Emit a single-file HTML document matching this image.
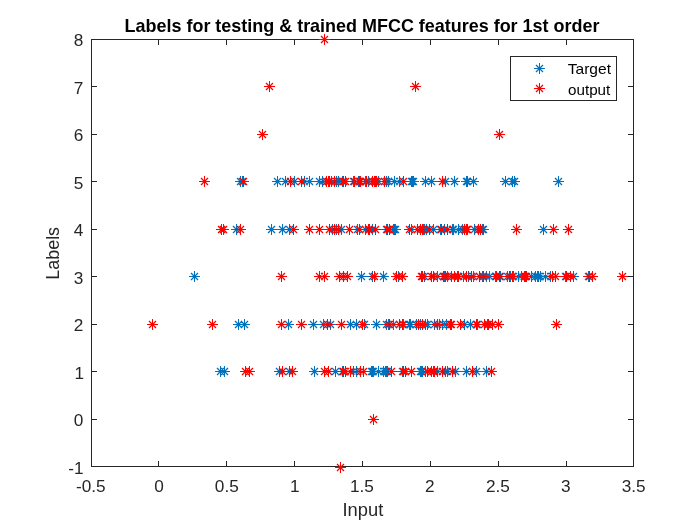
<!DOCTYPE html>
<html><head><meta charset="utf-8"><title>Labels for testing &amp; trained MFCC features for 1st order</title>
<style>
html,body{margin:0;padding:0;background:#fff;}
svg{display:block;}
text{font-family:"Liberation Sans",sans-serif;fill:#262626;}
.tk text{font-size:17.2px;}
</style></head><body>
<svg width="700" height="525" viewBox="0 0 700 525">
<rect width="700" height="525" fill="#fff"/>
<text x="362.0" y="32.3" text-anchor="middle" font-size="17.97" font-weight="bold" fill="#000" style="fill:#000">Labels for testing &amp; trained MFCC features for 1st order</text>
<rect x="91.5" y="39.5" width="542.0" height="427.0" fill="none" stroke="#262626" stroke-width="1"/>
<path d="M158.5 466.5v-5.5M158.5 39.5v5.5M226.5 466.5v-5.5M226.5 39.5v5.5M294.5 466.5v-5.5M294.5 39.5v5.5M362.5 466.5v-5.5M362.5 39.5v5.5M430.5 466.5v-5.5M430.5 39.5v5.5M498.5 466.5v-5.5M498.5 39.5v5.5M566.5 466.5v-5.5M566.5 39.5v5.5M91.5 466.5h5.5M633.5 466.5h-5.5M91.5 419.5h5.5M633.5 419.5h-5.5M91.5 371.5h5.5M633.5 371.5h-5.5M91.5 324.5h5.5M633.5 324.5h-5.5M91.5 276.5h5.5M633.5 276.5h-5.5M91.5 229.5h5.5M633.5 229.5h-5.5M91.5 181.5h5.5M633.5 181.5h-5.5M91.5 134.5h5.5M633.5 134.5h-5.5M91.5 86.5h5.5M633.5 86.5h-5.5M91.5 39.5h5.5M633.5 39.5h-5.5" stroke="#262626" stroke-width="1" fill="none"/>
<path d="M235.0 181.5h11.0M240.5 176.0v11.0M237.0 181.5h11.0M242.5 176.0v11.0M272.0 181.5h11.0M277.5 176.0v11.0M280.0 181.5h11.0M285.5 176.0v11.0M289.0 181.5h11.0M294.5 176.0v11.0M299.0 181.5h11.0M304.5 176.0v11.0M304.0 181.5h11.0M309.5 176.0v11.0M314.0 181.5h11.0M319.5 176.0v11.0M317.0 181.5h11.0M322.5 176.0v11.0M326.0 181.5h11.0M331.5 176.0v11.0M331.0 181.5h11.0M336.5 176.0v11.0M333.0 181.5h11.0M338.5 176.0v11.0M337.0 181.5h11.0M342.5 176.0v11.0M348.0 181.5h11.0M353.5 176.0v11.0M353.0 181.5h11.0M358.5 176.0v11.0M360.0 181.5h11.0M365.5 176.0v11.0M363.0 181.5h11.0M368.5 176.0v11.0M373.0 181.5h11.0M378.5 176.0v11.0M381.0 181.5h11.0M386.5 176.0v11.0M383.0 181.5h11.0M388.5 176.0v11.0M389.0 181.5h11.0M394.5 176.0v11.0M394.0 181.5h11.0M399.5 176.0v11.0M406.0 181.5h11.0M411.5 176.0v11.0M407.0 181.5h11.0M412.5 176.0v11.0M408.0 181.5h11.0M413.5 176.0v11.0M420.0 181.5h11.0M425.5 176.0v11.0M426.0 181.5h11.0M431.5 176.0v11.0M440.0 181.5h11.0M445.5 176.0v11.0M449.0 181.5h11.0M454.5 176.0v11.0M461.0 181.5h11.0M466.5 176.0v11.0M462.0 181.5h11.0M467.5 176.0v11.0M468.0 181.5h11.0M473.5 176.0v11.0M500.0 181.5h11.0M505.5 176.0v11.0M507.0 181.5h11.0M512.5 176.0v11.0M509.0 181.5h11.0M514.5 176.0v11.0M553.0 181.5h11.0M558.5 176.0v11.0M231.0 229.5h11.0M236.5 224.0v11.0M266.0 229.5h11.0M271.5 224.0v11.0M277.0 229.5h11.0M282.5 224.0v11.0M284.0 229.5h11.0M289.5 224.0v11.0M327.0 229.5h11.0M332.5 224.0v11.0M331.0 229.5h11.0M336.5 224.0v11.0M336.0 229.5h11.0M341.5 224.0v11.0M352.0 229.5h11.0M357.5 224.0v11.0M360.0 229.5h11.0M365.5 224.0v11.0M367.0 229.5h11.0M372.5 224.0v11.0M381.0 229.5h11.0M386.5 224.0v11.0M388.0 229.5h11.0M393.5 224.0v11.0M389.0 229.5h11.0M394.5 224.0v11.0M390.0 229.5h11.0M395.5 224.0v11.0M406.0 229.5h11.0M411.5 224.0v11.0M415.0 229.5h11.0M420.5 224.0v11.0M418.0 229.5h11.0M423.5 224.0v11.0M419.0 229.5h11.0M424.5 224.0v11.0M421.0 229.5h11.0M426.5 224.0v11.0M428.0 229.5h11.0M433.5 224.0v11.0M435.0 229.5h11.0M440.5 224.0v11.0M439.0 229.5h11.0M444.5 224.0v11.0M447.0 229.5h11.0M452.5 224.0v11.0M448.0 229.5h11.0M453.5 224.0v11.0M453.0 229.5h11.0M458.5 224.0v11.0M457.0 229.5h11.0M462.5 224.0v11.0M469.0 229.5h11.0M474.5 224.0v11.0M477.0 229.5h11.0M482.5 224.0v11.0M478.0 229.5h11.0M483.5 224.0v11.0M538.0 229.5h11.0M543.5 224.0v11.0M189.0 276.5h11.0M194.5 271.0v11.0M356.0 276.5h11.0M361.5 271.0v11.0M367.0 276.5h11.0M372.5 271.0v11.0M378.0 276.5h11.0M383.5 271.0v11.0M393.0 276.5h11.0M398.5 271.0v11.0M419.0 276.5h11.0M424.5 271.0v11.0M432.0 276.5h11.0M437.5 271.0v11.0M439.0 276.5h11.0M444.5 271.0v11.0M442.0 276.5h11.0M447.5 271.0v11.0M452.0 276.5h11.0M457.5 271.0v11.0M458.0 276.5h11.0M463.5 271.0v11.0M463.0 276.5h11.0M468.5 271.0v11.0M468.0 276.5h11.0M473.5 271.0v11.0M477.0 276.5h11.0M482.5 271.0v11.0M481.0 276.5h11.0M486.5 271.0v11.0M484.0 276.5h11.0M489.5 271.0v11.0M490.0 276.5h11.0M495.5 271.0v11.0M495.0 276.5h11.0M500.5 271.0v11.0M502.0 276.5h11.0M507.5 271.0v11.0M505.0 276.5h11.0M510.5 271.0v11.0M508.0 276.5h11.0M513.5 271.0v11.0M513.0 276.5h11.0M518.5 271.0v11.0M516.0 276.5h11.0M521.5 271.0v11.0M526.0 276.5h11.0M531.5 271.0v11.0M530.0 276.5h11.0M535.5 271.0v11.0M532.0 276.5h11.0M537.5 271.0v11.0M533.0 276.5h11.0M538.5 271.0v11.0M535.0 276.5h11.0M540.5 271.0v11.0M540.0 276.5h11.0M545.5 271.0v11.0M545.0 276.5h11.0M550.5 271.0v11.0M560.0 276.5h11.0M565.5 271.0v11.0M568.0 276.5h11.0M573.5 271.0v11.0M583.0 276.5h11.0M588.5 271.0v11.0M233.0 324.5h11.0M238.5 319.0v11.0M239.0 324.5h11.0M244.5 319.0v11.0M283.0 324.5h11.0M288.5 319.0v11.0M308.0 324.5h11.0M313.5 319.0v11.0M318.0 324.5h11.0M323.5 319.0v11.0M325.0 324.5h11.0M330.5 319.0v11.0M345.0 324.5h11.0M350.5 319.0v11.0M351.0 324.5h11.0M356.5 319.0v11.0M359.0 324.5h11.0M364.5 319.0v11.0M371.0 324.5h11.0M376.5 319.0v11.0M381.0 324.5h11.0M386.5 319.0v11.0M383.0 324.5h11.0M388.5 319.0v11.0M388.0 324.5h11.0M393.5 319.0v11.0M398.0 324.5h11.0M403.5 319.0v11.0M404.0 324.5h11.0M409.5 319.0v11.0M405.0 324.5h11.0M410.5 319.0v11.0M411.0 324.5h11.0M416.5 319.0v11.0M415.0 324.5h11.0M420.5 319.0v11.0M420.0 324.5h11.0M425.5 319.0v11.0M422.0 324.5h11.0M427.5 319.0v11.0M429.0 324.5h11.0M434.5 319.0v11.0M434.0 324.5h11.0M439.5 319.0v11.0M437.0 324.5h11.0M442.5 319.0v11.0M441.0 324.5h11.0M446.5 319.0v11.0M459.0 324.5h11.0M464.5 319.0v11.0M465.0 324.5h11.0M470.5 319.0v11.0M472.0 324.5h11.0M477.5 319.0v11.0M482.0 324.5h11.0M487.5 319.0v11.0M215.0 371.5h11.0M220.5 366.0v11.0M219.0 371.5h11.0M224.5 366.0v11.0M274.0 371.5h11.0M279.5 366.0v11.0M284.0 371.5h11.0M289.5 366.0v11.0M309.0 371.5h11.0M314.5 366.0v11.0M330.0 371.5h11.0M335.5 366.0v11.0M337.0 371.5h11.0M342.5 366.0v11.0M348.0 371.5h11.0M353.5 366.0v11.0M351.0 371.5h11.0M356.5 366.0v11.0M366.0 371.5h11.0M371.5 366.0v11.0M367.0 371.5h11.0M372.5 366.0v11.0M368.0 371.5h11.0M373.5 366.0v11.0M373.0 371.5h11.0M378.5 366.0v11.0M378.0 371.5h11.0M383.5 366.0v11.0M380.0 371.5h11.0M385.5 366.0v11.0M381.0 371.5h11.0M386.5 366.0v11.0M382.0 371.5h11.0M387.5 366.0v11.0M397.0 371.5h11.0M402.5 366.0v11.0M415.0 371.5h11.0M420.5 366.0v11.0M416.0 371.5h11.0M421.5 366.0v11.0M417.0 371.5h11.0M422.5 366.0v11.0M420.0 371.5h11.0M425.5 366.0v11.0M432.0 371.5h11.0M437.5 366.0v11.0M440.0 371.5h11.0M445.5 366.0v11.0M442.0 371.5h11.0M447.5 366.0v11.0M450.0 371.5h11.0M455.5 366.0v11.0M461.0 371.5h11.0M466.5 366.0v11.0M471.0 371.5h11.0M476.5 366.0v11.0M481.0 371.5h11.0M486.5 366.0v11.0" stroke="#0072BD" stroke-width="1" fill="none"/>
<path d="M237.0 178.0l7.0 7.0M237.0 185.0l7.0 -7.0M239.0 178.0l7.0 7.0M239.0 185.0l7.0 -7.0M274.0 178.0l7.0 7.0M274.0 185.0l7.0 -7.0M282.0 178.0l7.0 7.0M282.0 185.0l7.0 -7.0M291.0 178.0l7.0 7.0M291.0 185.0l7.0 -7.0M301.0 178.0l7.0 7.0M301.0 185.0l7.0 -7.0M306.0 178.0l7.0 7.0M306.0 185.0l7.0 -7.0M316.0 178.0l7.0 7.0M316.0 185.0l7.0 -7.0M319.0 178.0l7.0 7.0M319.0 185.0l7.0 -7.0M328.0 178.0l7.0 7.0M328.0 185.0l7.0 -7.0M333.0 178.0l7.0 7.0M333.0 185.0l7.0 -7.0M335.0 178.0l7.0 7.0M335.0 185.0l7.0 -7.0M339.0 178.0l7.0 7.0M339.0 185.0l7.0 -7.0M350.0 178.0l7.0 7.0M350.0 185.0l7.0 -7.0M355.0 178.0l7.0 7.0M355.0 185.0l7.0 -7.0M362.0 178.0l7.0 7.0M362.0 185.0l7.0 -7.0M365.0 178.0l7.0 7.0M365.0 185.0l7.0 -7.0M375.0 178.0l7.0 7.0M375.0 185.0l7.0 -7.0M383.0 178.0l7.0 7.0M383.0 185.0l7.0 -7.0M385.0 178.0l7.0 7.0M385.0 185.0l7.0 -7.0M391.0 178.0l7.0 7.0M391.0 185.0l7.0 -7.0M396.0 178.0l7.0 7.0M396.0 185.0l7.0 -7.0M408.0 178.0l7.0 7.0M408.0 185.0l7.0 -7.0M409.0 178.0l7.0 7.0M409.0 185.0l7.0 -7.0M410.0 178.0l7.0 7.0M410.0 185.0l7.0 -7.0M422.0 178.0l7.0 7.0M422.0 185.0l7.0 -7.0M428.0 178.0l7.0 7.0M428.0 185.0l7.0 -7.0M442.0 178.0l7.0 7.0M442.0 185.0l7.0 -7.0M451.0 178.0l7.0 7.0M451.0 185.0l7.0 -7.0M463.0 178.0l7.0 7.0M463.0 185.0l7.0 -7.0M464.0 178.0l7.0 7.0M464.0 185.0l7.0 -7.0M470.0 178.0l7.0 7.0M470.0 185.0l7.0 -7.0M502.0 178.0l7.0 7.0M502.0 185.0l7.0 -7.0M509.0 178.0l7.0 7.0M509.0 185.0l7.0 -7.0M511.0 178.0l7.0 7.0M511.0 185.0l7.0 -7.0M555.0 178.0l7.0 7.0M555.0 185.0l7.0 -7.0M233.0 226.0l7.0 7.0M233.0 233.0l7.0 -7.0M268.0 226.0l7.0 7.0M268.0 233.0l7.0 -7.0M279.0 226.0l7.0 7.0M279.0 233.0l7.0 -7.0M286.0 226.0l7.0 7.0M286.0 233.0l7.0 -7.0M329.0 226.0l7.0 7.0M329.0 233.0l7.0 -7.0M333.0 226.0l7.0 7.0M333.0 233.0l7.0 -7.0M338.0 226.0l7.0 7.0M338.0 233.0l7.0 -7.0M354.0 226.0l7.0 7.0M354.0 233.0l7.0 -7.0M362.0 226.0l7.0 7.0M362.0 233.0l7.0 -7.0M369.0 226.0l7.0 7.0M369.0 233.0l7.0 -7.0M383.0 226.0l7.0 7.0M383.0 233.0l7.0 -7.0M390.0 226.0l7.0 7.0M390.0 233.0l7.0 -7.0M391.0 226.0l7.0 7.0M391.0 233.0l7.0 -7.0M392.0 226.0l7.0 7.0M392.0 233.0l7.0 -7.0M408.0 226.0l7.0 7.0M408.0 233.0l7.0 -7.0M417.0 226.0l7.0 7.0M417.0 233.0l7.0 -7.0M420.0 226.0l7.0 7.0M420.0 233.0l7.0 -7.0M421.0 226.0l7.0 7.0M421.0 233.0l7.0 -7.0M423.0 226.0l7.0 7.0M423.0 233.0l7.0 -7.0M430.0 226.0l7.0 7.0M430.0 233.0l7.0 -7.0M437.0 226.0l7.0 7.0M437.0 233.0l7.0 -7.0M441.0 226.0l7.0 7.0M441.0 233.0l7.0 -7.0M449.0 226.0l7.0 7.0M449.0 233.0l7.0 -7.0M450.0 226.0l7.0 7.0M450.0 233.0l7.0 -7.0M455.0 226.0l7.0 7.0M455.0 233.0l7.0 -7.0M459.0 226.0l7.0 7.0M459.0 233.0l7.0 -7.0M471.0 226.0l7.0 7.0M471.0 233.0l7.0 -7.0M479.0 226.0l7.0 7.0M479.0 233.0l7.0 -7.0M480.0 226.0l7.0 7.0M480.0 233.0l7.0 -7.0M540.0 226.0l7.0 7.0M540.0 233.0l7.0 -7.0M191.0 273.0l7.0 7.0M191.0 280.0l7.0 -7.0M358.0 273.0l7.0 7.0M358.0 280.0l7.0 -7.0M369.0 273.0l7.0 7.0M369.0 280.0l7.0 -7.0M380.0 273.0l7.0 7.0M380.0 280.0l7.0 -7.0M395.0 273.0l7.0 7.0M395.0 280.0l7.0 -7.0M421.0 273.0l7.0 7.0M421.0 280.0l7.0 -7.0M434.0 273.0l7.0 7.0M434.0 280.0l7.0 -7.0M441.0 273.0l7.0 7.0M441.0 280.0l7.0 -7.0M444.0 273.0l7.0 7.0M444.0 280.0l7.0 -7.0M454.0 273.0l7.0 7.0M454.0 280.0l7.0 -7.0M460.0 273.0l7.0 7.0M460.0 280.0l7.0 -7.0M465.0 273.0l7.0 7.0M465.0 280.0l7.0 -7.0M470.0 273.0l7.0 7.0M470.0 280.0l7.0 -7.0M479.0 273.0l7.0 7.0M479.0 280.0l7.0 -7.0M483.0 273.0l7.0 7.0M483.0 280.0l7.0 -7.0M486.0 273.0l7.0 7.0M486.0 280.0l7.0 -7.0M492.0 273.0l7.0 7.0M492.0 280.0l7.0 -7.0M497.0 273.0l7.0 7.0M497.0 280.0l7.0 -7.0M504.0 273.0l7.0 7.0M504.0 280.0l7.0 -7.0M507.0 273.0l7.0 7.0M507.0 280.0l7.0 -7.0M510.0 273.0l7.0 7.0M510.0 280.0l7.0 -7.0M515.0 273.0l7.0 7.0M515.0 280.0l7.0 -7.0M518.0 273.0l7.0 7.0M518.0 280.0l7.0 -7.0M528.0 273.0l7.0 7.0M528.0 280.0l7.0 -7.0M532.0 273.0l7.0 7.0M532.0 280.0l7.0 -7.0M534.0 273.0l7.0 7.0M534.0 280.0l7.0 -7.0M535.0 273.0l7.0 7.0M535.0 280.0l7.0 -7.0M537.0 273.0l7.0 7.0M537.0 280.0l7.0 -7.0M542.0 273.0l7.0 7.0M542.0 280.0l7.0 -7.0M547.0 273.0l7.0 7.0M547.0 280.0l7.0 -7.0M562.0 273.0l7.0 7.0M562.0 280.0l7.0 -7.0M570.0 273.0l7.0 7.0M570.0 280.0l7.0 -7.0M585.0 273.0l7.0 7.0M585.0 280.0l7.0 -7.0M235.0 321.0l7.0 7.0M235.0 328.0l7.0 -7.0M241.0 321.0l7.0 7.0M241.0 328.0l7.0 -7.0M285.0 321.0l7.0 7.0M285.0 328.0l7.0 -7.0M310.0 321.0l7.0 7.0M310.0 328.0l7.0 -7.0M320.0 321.0l7.0 7.0M320.0 328.0l7.0 -7.0M327.0 321.0l7.0 7.0M327.0 328.0l7.0 -7.0M347.0 321.0l7.0 7.0M347.0 328.0l7.0 -7.0M353.0 321.0l7.0 7.0M353.0 328.0l7.0 -7.0M361.0 321.0l7.0 7.0M361.0 328.0l7.0 -7.0M373.0 321.0l7.0 7.0M373.0 328.0l7.0 -7.0M383.0 321.0l7.0 7.0M383.0 328.0l7.0 -7.0M385.0 321.0l7.0 7.0M385.0 328.0l7.0 -7.0M390.0 321.0l7.0 7.0M390.0 328.0l7.0 -7.0M400.0 321.0l7.0 7.0M400.0 328.0l7.0 -7.0M406.0 321.0l7.0 7.0M406.0 328.0l7.0 -7.0M407.0 321.0l7.0 7.0M407.0 328.0l7.0 -7.0M413.0 321.0l7.0 7.0M413.0 328.0l7.0 -7.0M417.0 321.0l7.0 7.0M417.0 328.0l7.0 -7.0M422.0 321.0l7.0 7.0M422.0 328.0l7.0 -7.0M424.0 321.0l7.0 7.0M424.0 328.0l7.0 -7.0M431.0 321.0l7.0 7.0M431.0 328.0l7.0 -7.0M436.0 321.0l7.0 7.0M436.0 328.0l7.0 -7.0M439.0 321.0l7.0 7.0M439.0 328.0l7.0 -7.0M443.0 321.0l7.0 7.0M443.0 328.0l7.0 -7.0M461.0 321.0l7.0 7.0M461.0 328.0l7.0 -7.0M467.0 321.0l7.0 7.0M467.0 328.0l7.0 -7.0M474.0 321.0l7.0 7.0M474.0 328.0l7.0 -7.0M484.0 321.0l7.0 7.0M484.0 328.0l7.0 -7.0M217.0 368.0l7.0 7.0M217.0 375.0l7.0 -7.0M221.0 368.0l7.0 7.0M221.0 375.0l7.0 -7.0M276.0 368.0l7.0 7.0M276.0 375.0l7.0 -7.0M286.0 368.0l7.0 7.0M286.0 375.0l7.0 -7.0M311.0 368.0l7.0 7.0M311.0 375.0l7.0 -7.0M332.0 368.0l7.0 7.0M332.0 375.0l7.0 -7.0M339.0 368.0l7.0 7.0M339.0 375.0l7.0 -7.0M350.0 368.0l7.0 7.0M350.0 375.0l7.0 -7.0M353.0 368.0l7.0 7.0M353.0 375.0l7.0 -7.0M368.0 368.0l7.0 7.0M368.0 375.0l7.0 -7.0M369.0 368.0l7.0 7.0M369.0 375.0l7.0 -7.0M370.0 368.0l7.0 7.0M370.0 375.0l7.0 -7.0M375.0 368.0l7.0 7.0M375.0 375.0l7.0 -7.0M380.0 368.0l7.0 7.0M380.0 375.0l7.0 -7.0M382.0 368.0l7.0 7.0M382.0 375.0l7.0 -7.0M383.0 368.0l7.0 7.0M383.0 375.0l7.0 -7.0M384.0 368.0l7.0 7.0M384.0 375.0l7.0 -7.0M399.0 368.0l7.0 7.0M399.0 375.0l7.0 -7.0M417.0 368.0l7.0 7.0M417.0 375.0l7.0 -7.0M418.0 368.0l7.0 7.0M418.0 375.0l7.0 -7.0M419.0 368.0l7.0 7.0M419.0 375.0l7.0 -7.0M422.0 368.0l7.0 7.0M422.0 375.0l7.0 -7.0M434.0 368.0l7.0 7.0M434.0 375.0l7.0 -7.0M442.0 368.0l7.0 7.0M442.0 375.0l7.0 -7.0M444.0 368.0l7.0 7.0M444.0 375.0l7.0 -7.0M452.0 368.0l7.0 7.0M452.0 375.0l7.0 -7.0M463.0 368.0l7.0 7.0M463.0 375.0l7.0 -7.0M473.0 368.0l7.0 7.0M473.0 375.0l7.0 -7.0M483.0 368.0l7.0 7.0M483.0 375.0l7.0 -7.0" stroke="#0072BD" stroke-width="1.25" fill="none"/>
<path d="M199.0 181.5h11.0M204.5 176.0v11.0M238.0 181.5h11.0M243.5 176.0v11.0M285.0 181.5h11.0M290.5 176.0v11.0M296.0 181.5h11.0M301.5 176.0v11.0M321.0 181.5h11.0M326.5 176.0v11.0M323.0 181.5h11.0M328.5 176.0v11.0M324.0 181.5h11.0M329.5 176.0v11.0M329.0 181.5h11.0M334.5 176.0v11.0M338.0 181.5h11.0M343.5 176.0v11.0M340.0 181.5h11.0M345.5 176.0v11.0M349.0 181.5h11.0M354.5 176.0v11.0M354.0 181.5h11.0M359.5 176.0v11.0M355.0 181.5h11.0M360.5 176.0v11.0M361.0 181.5h11.0M366.5 176.0v11.0M367.0 181.5h11.0M372.5 176.0v11.0M369.0 181.5h11.0M374.5 176.0v11.0M370.0 181.5h11.0M375.5 176.0v11.0M371.0 181.5h11.0M376.5 176.0v11.0M379.0 181.5h11.0M384.5 176.0v11.0M398.0 181.5h11.0M403.5 176.0v11.0M437.0 181.5h11.0M442.5 176.0v11.0M216.0 229.5h11.0M221.5 224.0v11.0M218.0 229.5h11.0M223.5 224.0v11.0M235.0 229.5h11.0M240.5 224.0v11.0M288.0 229.5h11.0M293.5 224.0v11.0M304.0 229.5h11.0M309.5 224.0v11.0M314.0 229.5h11.0M319.5 224.0v11.0M324.0 229.5h11.0M329.5 224.0v11.0M329.0 229.5h11.0M334.5 224.0v11.0M333.0 229.5h11.0M338.5 224.0v11.0M344.0 229.5h11.0M349.5 224.0v11.0M354.0 229.5h11.0M359.5 224.0v11.0M363.0 229.5h11.0M368.5 224.0v11.0M364.0 229.5h11.0M369.5 224.0v11.0M370.0 229.5h11.0M375.5 224.0v11.0M382.0 229.5h11.0M387.5 224.0v11.0M384.0 229.5h11.0M389.5 224.0v11.0M404.0 229.5h11.0M409.5 224.0v11.0M412.0 229.5h11.0M417.5 224.0v11.0M415.0 229.5h11.0M420.5 224.0v11.0M417.0 229.5h11.0M422.5 224.0v11.0M424.0 229.5h11.0M429.5 224.0v11.0M436.0 229.5h11.0M441.5 224.0v11.0M442.0 229.5h11.0M447.5 224.0v11.0M459.0 229.5h11.0M464.5 224.0v11.0M461.0 229.5h11.0M466.5 224.0v11.0M462.0 229.5h11.0M467.5 224.0v11.0M473.0 229.5h11.0M478.5 224.0v11.0M475.0 229.5h11.0M480.5 224.0v11.0M511.0 229.5h11.0M516.5 224.0v11.0M548.0 229.5h11.0M553.5 224.0v11.0M563.0 229.5h11.0M568.5 224.0v11.0M276.0 276.5h11.0M281.5 271.0v11.0M314.0 276.5h11.0M319.5 271.0v11.0M319.0 276.5h11.0M324.5 271.0v11.0M334.0 276.5h11.0M339.5 271.0v11.0M338.0 276.5h11.0M343.5 271.0v11.0M342.0 276.5h11.0M347.5 271.0v11.0M369.0 276.5h11.0M374.5 271.0v11.0M391.0 276.5h11.0M396.5 271.0v11.0M397.0 276.5h11.0M402.5 271.0v11.0M416.0 276.5h11.0M421.5 271.0v11.0M417.0 276.5h11.0M422.5 271.0v11.0M426.0 276.5h11.0M431.5 271.0v11.0M428.0 276.5h11.0M433.5 271.0v11.0M438.0 276.5h11.0M443.5 271.0v11.0M440.0 276.5h11.0M445.5 271.0v11.0M446.0 276.5h11.0M451.5 271.0v11.0M449.0 276.5h11.0M454.5 271.0v11.0M453.0 276.5h11.0M458.5 271.0v11.0M461.0 276.5h11.0M466.5 271.0v11.0M466.0 276.5h11.0M471.5 271.0v11.0M474.0 276.5h11.0M479.5 271.0v11.0M478.0 276.5h11.0M483.5 271.0v11.0M491.0 276.5h11.0M496.5 271.0v11.0M494.0 276.5h11.0M499.5 271.0v11.0M504.0 276.5h11.0M509.5 271.0v11.0M507.0 276.5h11.0M512.5 271.0v11.0M519.0 276.5h11.0M524.5 271.0v11.0M520.0 276.5h11.0M525.5 271.0v11.0M521.0 276.5h11.0M526.5 271.0v11.0M547.0 276.5h11.0M552.5 271.0v11.0M550.0 276.5h11.0M555.5 271.0v11.0M561.0 276.5h11.0M566.5 271.0v11.0M565.0 276.5h11.0M570.5 271.0v11.0M584.0 276.5h11.0M589.5 271.0v11.0M587.0 276.5h11.0M592.5 271.0v11.0M617.0 276.5h11.0M622.5 271.0v11.0M147.0 324.5h11.0M152.5 319.0v11.0M207.0 324.5h11.0M212.5 319.0v11.0M276.0 324.5h11.0M281.5 319.0v11.0M296.0 324.5h11.0M301.5 319.0v11.0M322.0 324.5h11.0M327.5 319.0v11.0M336.0 324.5h11.0M341.5 319.0v11.0M357.0 324.5h11.0M362.5 319.0v11.0M384.0 324.5h11.0M389.5 319.0v11.0M394.0 324.5h11.0M399.5 319.0v11.0M397.0 324.5h11.0M402.5 319.0v11.0M413.0 324.5h11.0M418.5 319.0v11.0M417.0 324.5h11.0M422.5 319.0v11.0M432.0 324.5h11.0M437.5 319.0v11.0M445.0 324.5h11.0M450.5 319.0v11.0M446.0 324.5h11.0M451.5 319.0v11.0M455.0 324.5h11.0M460.5 319.0v11.0M471.0 324.5h11.0M476.5 319.0v11.0M479.0 324.5h11.0M484.5 319.0v11.0M483.0 324.5h11.0M488.5 319.0v11.0M487.0 324.5h11.0M492.5 319.0v11.0M493.0 324.5h11.0M498.5 319.0v11.0M551.0 324.5h11.0M556.5 319.0v11.0M240.0 371.5h11.0M245.5 366.0v11.0M244.0 371.5h11.0M249.5 366.0v11.0M277.0 371.5h11.0M282.5 366.0v11.0M287.0 371.5h11.0M292.5 366.0v11.0M319.0 371.5h11.0M324.5 366.0v11.0M323.0 371.5h11.0M328.5 366.0v11.0M338.0 371.5h11.0M343.5 366.0v11.0M340.0 371.5h11.0M345.5 366.0v11.0M345.0 371.5h11.0M350.5 366.0v11.0M355.0 371.5h11.0M360.5 366.0v11.0M358.0 371.5h11.0M363.5 366.0v11.0M386.0 371.5h11.0M391.5 366.0v11.0M398.0 371.5h11.0M403.5 366.0v11.0M400.0 371.5h11.0M405.5 366.0v11.0M406.0 371.5h11.0M411.5 366.0v11.0M422.0 371.5h11.0M427.5 366.0v11.0M426.0 371.5h11.0M431.5 366.0v11.0M428.0 371.5h11.0M433.5 366.0v11.0M429.0 371.5h11.0M434.5 366.0v11.0M437.0 371.5h11.0M442.5 366.0v11.0M447.0 371.5h11.0M452.5 366.0v11.0M467.0 371.5h11.0M472.5 366.0v11.0M486.0 371.5h11.0M491.5 366.0v11.0M319.0 39.5h11.0M324.5 34.0v11.0M264.0 86.5h11.0M269.5 81.0v11.0M410.0 86.5h11.0M415.5 81.0v11.0M257.0 134.5h11.0M262.5 129.0v11.0M494.0 134.5h11.0M499.5 129.0v11.0M368.0 419.5h11.0M373.5 414.0v11.0M335.0 467.5h11.0M340.5 462.0v11.0" stroke="#FF0000" stroke-width="1" fill="none"/>
<path d="M201.0 178.0l7.0 7.0M201.0 185.0l7.0 -7.0M240.0 178.0l7.0 7.0M240.0 185.0l7.0 -7.0M287.0 178.0l7.0 7.0M287.0 185.0l7.0 -7.0M298.0 178.0l7.0 7.0M298.0 185.0l7.0 -7.0M323.0 178.0l7.0 7.0M323.0 185.0l7.0 -7.0M325.0 178.0l7.0 7.0M325.0 185.0l7.0 -7.0M326.0 178.0l7.0 7.0M326.0 185.0l7.0 -7.0M331.0 178.0l7.0 7.0M331.0 185.0l7.0 -7.0M340.0 178.0l7.0 7.0M340.0 185.0l7.0 -7.0M342.0 178.0l7.0 7.0M342.0 185.0l7.0 -7.0M351.0 178.0l7.0 7.0M351.0 185.0l7.0 -7.0M356.0 178.0l7.0 7.0M356.0 185.0l7.0 -7.0M357.0 178.0l7.0 7.0M357.0 185.0l7.0 -7.0M363.0 178.0l7.0 7.0M363.0 185.0l7.0 -7.0M369.0 178.0l7.0 7.0M369.0 185.0l7.0 -7.0M371.0 178.0l7.0 7.0M371.0 185.0l7.0 -7.0M372.0 178.0l7.0 7.0M372.0 185.0l7.0 -7.0M373.0 178.0l7.0 7.0M373.0 185.0l7.0 -7.0M381.0 178.0l7.0 7.0M381.0 185.0l7.0 -7.0M400.0 178.0l7.0 7.0M400.0 185.0l7.0 -7.0M439.0 178.0l7.0 7.0M439.0 185.0l7.0 -7.0M218.0 226.0l7.0 7.0M218.0 233.0l7.0 -7.0M220.0 226.0l7.0 7.0M220.0 233.0l7.0 -7.0M237.0 226.0l7.0 7.0M237.0 233.0l7.0 -7.0M290.0 226.0l7.0 7.0M290.0 233.0l7.0 -7.0M306.0 226.0l7.0 7.0M306.0 233.0l7.0 -7.0M316.0 226.0l7.0 7.0M316.0 233.0l7.0 -7.0M326.0 226.0l7.0 7.0M326.0 233.0l7.0 -7.0M331.0 226.0l7.0 7.0M331.0 233.0l7.0 -7.0M335.0 226.0l7.0 7.0M335.0 233.0l7.0 -7.0M346.0 226.0l7.0 7.0M346.0 233.0l7.0 -7.0M356.0 226.0l7.0 7.0M356.0 233.0l7.0 -7.0M365.0 226.0l7.0 7.0M365.0 233.0l7.0 -7.0M366.0 226.0l7.0 7.0M366.0 233.0l7.0 -7.0M372.0 226.0l7.0 7.0M372.0 233.0l7.0 -7.0M384.0 226.0l7.0 7.0M384.0 233.0l7.0 -7.0M386.0 226.0l7.0 7.0M386.0 233.0l7.0 -7.0M406.0 226.0l7.0 7.0M406.0 233.0l7.0 -7.0M414.0 226.0l7.0 7.0M414.0 233.0l7.0 -7.0M417.0 226.0l7.0 7.0M417.0 233.0l7.0 -7.0M419.0 226.0l7.0 7.0M419.0 233.0l7.0 -7.0M426.0 226.0l7.0 7.0M426.0 233.0l7.0 -7.0M438.0 226.0l7.0 7.0M438.0 233.0l7.0 -7.0M444.0 226.0l7.0 7.0M444.0 233.0l7.0 -7.0M461.0 226.0l7.0 7.0M461.0 233.0l7.0 -7.0M463.0 226.0l7.0 7.0M463.0 233.0l7.0 -7.0M464.0 226.0l7.0 7.0M464.0 233.0l7.0 -7.0M475.0 226.0l7.0 7.0M475.0 233.0l7.0 -7.0M477.0 226.0l7.0 7.0M477.0 233.0l7.0 -7.0M513.0 226.0l7.0 7.0M513.0 233.0l7.0 -7.0M550.0 226.0l7.0 7.0M550.0 233.0l7.0 -7.0M565.0 226.0l7.0 7.0M565.0 233.0l7.0 -7.0M278.0 273.0l7.0 7.0M278.0 280.0l7.0 -7.0M316.0 273.0l7.0 7.0M316.0 280.0l7.0 -7.0M321.0 273.0l7.0 7.0M321.0 280.0l7.0 -7.0M336.0 273.0l7.0 7.0M336.0 280.0l7.0 -7.0M340.0 273.0l7.0 7.0M340.0 280.0l7.0 -7.0M344.0 273.0l7.0 7.0M344.0 280.0l7.0 -7.0M371.0 273.0l7.0 7.0M371.0 280.0l7.0 -7.0M393.0 273.0l7.0 7.0M393.0 280.0l7.0 -7.0M399.0 273.0l7.0 7.0M399.0 280.0l7.0 -7.0M418.0 273.0l7.0 7.0M418.0 280.0l7.0 -7.0M419.0 273.0l7.0 7.0M419.0 280.0l7.0 -7.0M428.0 273.0l7.0 7.0M428.0 280.0l7.0 -7.0M430.0 273.0l7.0 7.0M430.0 280.0l7.0 -7.0M440.0 273.0l7.0 7.0M440.0 280.0l7.0 -7.0M442.0 273.0l7.0 7.0M442.0 280.0l7.0 -7.0M448.0 273.0l7.0 7.0M448.0 280.0l7.0 -7.0M451.0 273.0l7.0 7.0M451.0 280.0l7.0 -7.0M455.0 273.0l7.0 7.0M455.0 280.0l7.0 -7.0M463.0 273.0l7.0 7.0M463.0 280.0l7.0 -7.0M468.0 273.0l7.0 7.0M468.0 280.0l7.0 -7.0M476.0 273.0l7.0 7.0M476.0 280.0l7.0 -7.0M480.0 273.0l7.0 7.0M480.0 280.0l7.0 -7.0M493.0 273.0l7.0 7.0M493.0 280.0l7.0 -7.0M496.0 273.0l7.0 7.0M496.0 280.0l7.0 -7.0M506.0 273.0l7.0 7.0M506.0 280.0l7.0 -7.0M509.0 273.0l7.0 7.0M509.0 280.0l7.0 -7.0M521.0 273.0l7.0 7.0M521.0 280.0l7.0 -7.0M522.0 273.0l7.0 7.0M522.0 280.0l7.0 -7.0M523.0 273.0l7.0 7.0M523.0 280.0l7.0 -7.0M549.0 273.0l7.0 7.0M549.0 280.0l7.0 -7.0M552.0 273.0l7.0 7.0M552.0 280.0l7.0 -7.0M563.0 273.0l7.0 7.0M563.0 280.0l7.0 -7.0M567.0 273.0l7.0 7.0M567.0 280.0l7.0 -7.0M586.0 273.0l7.0 7.0M586.0 280.0l7.0 -7.0M589.0 273.0l7.0 7.0M589.0 280.0l7.0 -7.0M619.0 273.0l7.0 7.0M619.0 280.0l7.0 -7.0M149.0 321.0l7.0 7.0M149.0 328.0l7.0 -7.0M209.0 321.0l7.0 7.0M209.0 328.0l7.0 -7.0M278.0 321.0l7.0 7.0M278.0 328.0l7.0 -7.0M298.0 321.0l7.0 7.0M298.0 328.0l7.0 -7.0M324.0 321.0l7.0 7.0M324.0 328.0l7.0 -7.0M338.0 321.0l7.0 7.0M338.0 328.0l7.0 -7.0M359.0 321.0l7.0 7.0M359.0 328.0l7.0 -7.0M386.0 321.0l7.0 7.0M386.0 328.0l7.0 -7.0M396.0 321.0l7.0 7.0M396.0 328.0l7.0 -7.0M399.0 321.0l7.0 7.0M399.0 328.0l7.0 -7.0M415.0 321.0l7.0 7.0M415.0 328.0l7.0 -7.0M419.0 321.0l7.0 7.0M419.0 328.0l7.0 -7.0M434.0 321.0l7.0 7.0M434.0 328.0l7.0 -7.0M447.0 321.0l7.0 7.0M447.0 328.0l7.0 -7.0M448.0 321.0l7.0 7.0M448.0 328.0l7.0 -7.0M457.0 321.0l7.0 7.0M457.0 328.0l7.0 -7.0M473.0 321.0l7.0 7.0M473.0 328.0l7.0 -7.0M481.0 321.0l7.0 7.0M481.0 328.0l7.0 -7.0M485.0 321.0l7.0 7.0M485.0 328.0l7.0 -7.0M489.0 321.0l7.0 7.0M489.0 328.0l7.0 -7.0M495.0 321.0l7.0 7.0M495.0 328.0l7.0 -7.0M553.0 321.0l7.0 7.0M553.0 328.0l7.0 -7.0M242.0 368.0l7.0 7.0M242.0 375.0l7.0 -7.0M246.0 368.0l7.0 7.0M246.0 375.0l7.0 -7.0M279.0 368.0l7.0 7.0M279.0 375.0l7.0 -7.0M289.0 368.0l7.0 7.0M289.0 375.0l7.0 -7.0M321.0 368.0l7.0 7.0M321.0 375.0l7.0 -7.0M325.0 368.0l7.0 7.0M325.0 375.0l7.0 -7.0M340.0 368.0l7.0 7.0M340.0 375.0l7.0 -7.0M342.0 368.0l7.0 7.0M342.0 375.0l7.0 -7.0M347.0 368.0l7.0 7.0M347.0 375.0l7.0 -7.0M357.0 368.0l7.0 7.0M357.0 375.0l7.0 -7.0M360.0 368.0l7.0 7.0M360.0 375.0l7.0 -7.0M388.0 368.0l7.0 7.0M388.0 375.0l7.0 -7.0M400.0 368.0l7.0 7.0M400.0 375.0l7.0 -7.0M402.0 368.0l7.0 7.0M402.0 375.0l7.0 -7.0M408.0 368.0l7.0 7.0M408.0 375.0l7.0 -7.0M424.0 368.0l7.0 7.0M424.0 375.0l7.0 -7.0M428.0 368.0l7.0 7.0M428.0 375.0l7.0 -7.0M430.0 368.0l7.0 7.0M430.0 375.0l7.0 -7.0M431.0 368.0l7.0 7.0M431.0 375.0l7.0 -7.0M439.0 368.0l7.0 7.0M439.0 375.0l7.0 -7.0M449.0 368.0l7.0 7.0M449.0 375.0l7.0 -7.0M469.0 368.0l7.0 7.0M469.0 375.0l7.0 -7.0M488.0 368.0l7.0 7.0M488.0 375.0l7.0 -7.0M321.0 36.0l7.0 7.0M321.0 43.0l7.0 -7.0M266.0 83.0l7.0 7.0M266.0 90.0l7.0 -7.0M412.0 83.0l7.0 7.0M412.0 90.0l7.0 -7.0M259.0 131.0l7.0 7.0M259.0 138.0l7.0 -7.0M496.0 131.0l7.0 7.0M496.0 138.0l7.0 -7.0M370.0 416.0l7.0 7.0M370.0 423.0l7.0 -7.0M337.0 464.0l7.0 7.0M337.0 471.0l7.0 -7.0" stroke="#FF0000" stroke-width="1.25" fill="none"/>
<g class="tk">
<text x="90.8" y="492.1" text-anchor="middle">-0.5</text>
<text x="159.0" y="492.1" text-anchor="middle">0</text>
<text x="226.8" y="492.1" text-anchor="middle">0.5</text>
<text x="294.8" y="492.1" text-anchor="middle">1</text>
<text x="361.9" y="492.1" text-anchor="middle">1.5</text>
<text x="429.9" y="492.1" text-anchor="middle">2</text>
<text x="497.9" y="492.1" text-anchor="middle">2.5</text>
<text x="565.9" y="492.1" text-anchor="middle">3</text>
<text x="633.6" y="492.1" text-anchor="middle">3.5</text>
<text x="83.5" y="474.4" text-anchor="end">-1</text>
<text x="83.4" y="425.8" text-anchor="end">0</text>
<text x="84.1" y="378.9" text-anchor="end">1</text>
<text x="83.4" y="330.8" text-anchor="end">2</text>
<text x="83.4" y="283.9" text-anchor="end">3</text>
<text x="83.4" y="235.8" text-anchor="end">4</text>
<text x="83.4" y="188.9" text-anchor="end">5</text>
<text x="83.4" y="140.8" text-anchor="end">6</text>
<text x="83.4" y="93.9" text-anchor="end">7</text>
<text x="83.4" y="45.8" text-anchor="end">8</text>
</g>
<text x="362.9" y="515.6" text-anchor="middle" font-size="18.33">Input</text>
<text transform="translate(59.3 253.3) rotate(-90)" text-anchor="middle" font-size="17.9">Labels</text>
<rect x="510.5" y="56.5" width="106" height="44" fill="#fff" stroke="#262626" stroke-width="1"/>
<path d="M534.0 68.5h11.0M539.5 63.0v11.0" stroke="#0072BD" stroke-width="1" fill="none"/>
<path d="M536.0 65.0l7.0 7.0M536.0 72.0l7.0 -7.0" stroke="#0072BD" stroke-width="1.25" fill="none"/>
<path d="M534.0 88.5h11.0M539.5 83.0v11.0" stroke="#FF0000" stroke-width="1" fill="none"/>
<path d="M536.0 85.0l7.0 7.0M536.0 92.0l7.0 -7.0" stroke="#FF0000" stroke-width="1.25" fill="none"/>
<text x="567.7" y="73.7" font-size="15" textLength="43.3" lengthAdjust="spacingAndGlyphs" style="fill:#000">Target</text>
<text x="568.0" y="95.0" font-size="15" textLength="42.3" lengthAdjust="spacingAndGlyphs" style="fill:#000">output</text>
</svg>
</body></html>
